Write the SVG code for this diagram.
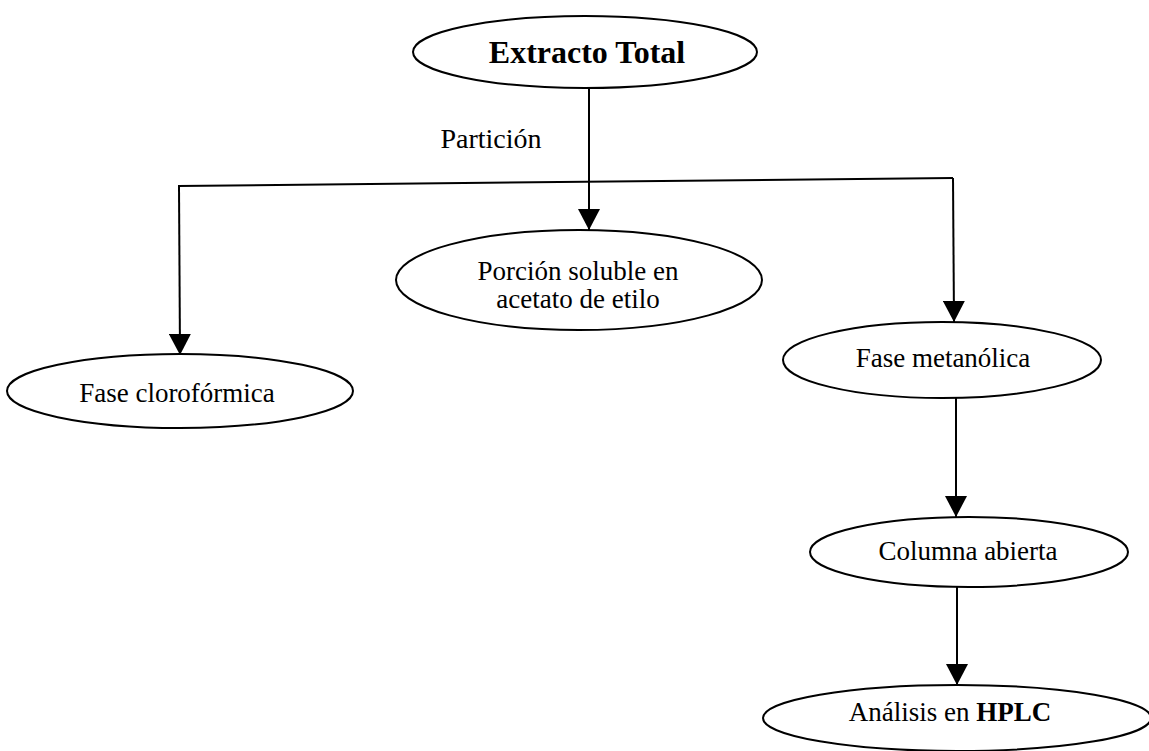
<svg xmlns="http://www.w3.org/2000/svg" width="1149" height="751" viewBox="0 0 1149 751">
<defs>
<style>
.node ellipse{fill:#fff;stroke:#000;stroke-width:2}
.t{font-family:"Liberation Serif","Times New Roman",serif;font-size:27px;fill:#000;text-anchor:middle}
.b{font-weight:bold}
.c line{stroke:#000;stroke-width:2;fill:none}
</style>
<marker id="ah" viewBox="0 0 21 22" refX="21" refY="11" markerWidth="21" markerHeight="22" markerUnits="userSpaceOnUse" orient="auto">
<path d="M0,0 L21,11 L0,22 Z" fill="#000"/>
</marker>
</defs>
<rect width="1149" height="751" fill="#fff"/>
<g class="c" id="connectors">
<line x1="589" y1="88" x2="589" y2="182"/>
<line x1="178" y1="186" x2="953" y2="178"/>
<line x1="589" y1="182" x2="589" y2="230" marker-end="url(#ah)"/>
<line x1="179" y1="186" x2="180" y2="355" marker-end="url(#ah)"/>
<line x1="953" y1="178" x2="954" y2="322" marker-end="url(#ah)"/>
<line x1="956" y1="397" x2="956" y2="517" marker-end="url(#ah)"/>
<line x1="957" y1="587" x2="957" y2="685" marker-end="url(#ah)"/>
</g>
<g id="extracto" class="node">
<ellipse cx="585" cy="52" rx="172" ry="36"/>
<text class="t b" x="587" y="63" style="font-size:32px">Extracto Total</text>
</g>
<text class="t" id="particion" x="491" y="148" style="font-size:28px">Partición</text>
<g id="porcion" class="node">
<ellipse cx="579" cy="280" rx="183" ry="50"/>
<text class="t" x="578" y="280">Porción soluble en</text>
<text class="t" x="578" y="308">acetato de etilo</text>
</g>
<g id="cloroformica" class="node">
<ellipse cx="180" cy="391" rx="173" ry="37"/>
<text class="t" x="177" y="402">Fase clorofórmica</text>
</g>
<g id="metanolica" class="node">
<ellipse cx="942" cy="360" rx="159" ry="38"/>
<text class="t" x="943" y="367">Fase metanólica</text>
</g>
<g id="columna" class="node">
<ellipse cx="969" cy="552" rx="159" ry="35"/>
<text class="t" x="968" y="560">Columna abierta</text>
</g>
<g id="hplc" class="node">
<ellipse cx="957" cy="718" rx="194" ry="33"/>
<text class="t" x="950" y="721">Análisis en <tspan class="b">HPLC</tspan></text>
</g>
</svg>
